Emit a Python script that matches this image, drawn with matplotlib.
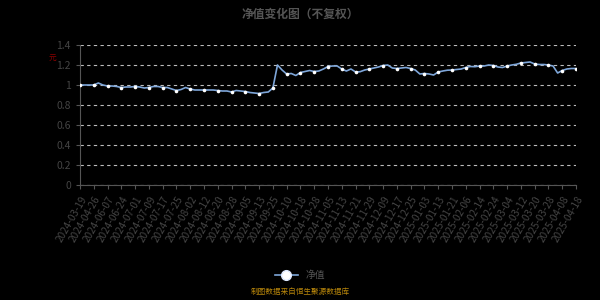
import matplotlib
matplotlib.use("Agg")
import matplotlib.pyplot as plt
from matplotlib.lines import Line2D

plt.rcParams['font.family'] = ['Noto Sans CJK SC', 'DejaVu Sans']

tick_dates = [
    "2024-03-19", "2024-04-26", "2024-06-07", "2024-06-24", "2024-07-01", "2024-07-09",
    "2024-07-17", "2024-07-25", "2024-08-02", "2024-08-12", "2024-08-20", "2024-08-28",
    "2024-09-05", "2024-09-13", "2024-09-25", "2024-10-10", "2024-10-18", "2024-10-28",
    "2024-11-05", "2024-11-13", "2024-11-21", "2024-11-29", "2024-12-09", "2024-12-17",
    "2024-12-25", "2025-01-03", "2025-01-13", "2025-01-21", "2025-02-06", "2025-02-14",
    "2025-02-24", "2025-03-04", "2025-03-12", "2025-03-20", "2025-03-28", "2025-04-08",
    "2025-04-18",
]

# net value, three readings per tick interval
nav = [
    1.00, 1.00, 1.00, 1.00, 1.02, 1.00, 0.99, 0.99, 0.985, 0.975,
    0.98, 0.98, 0.985, 0.98, 0.97, 0.975, 0.985, 0.985, 0.975, 0.975,
    0.96, 0.945, 0.955, 0.975, 0.96, 0.95, 0.95, 0.95, 0.95, 0.95,
    0.945, 0.94, 0.94, 0.93, 0.945, 0.94, 0.935, 0.925, 0.92, 0.915,
    0.925, 0.93, 0.97, 1.20, 1.15, 1.11, 1.115, 1.095, 1.125, 1.135,
    1.145, 1.135, 1.14, 1.16, 1.185, 1.19, 1.19, 1.16, 1.14, 1.16,
    1.13, 1.133, 1.15, 1.16, 1.17, 1.18, 1.195, 1.20, 1.17, 1.165,
    1.17, 1.175, 1.165, 1.15, 1.11, 1.115, 1.11, 1.10, 1.13, 1.14,
    1.148, 1.15, 1.155, 1.16, 1.175, 1.185, 1.183, 1.19, 1.19, 1.20,
    1.195, 1.18, 1.175, 1.19, 1.20, 1.207, 1.22, 1.225, 1.23, 1.21,
    1.205, 1.205, 1.20, 1.19, 1.12, 1.145, 1.16, 1.165, 1.165,
]

step = 3
x = list(range(len(nav)))

fig = plt.figure(figsize=(6, 3), dpi=100, facecolor="black")
ax = fig.add_axes([0.1333, 0.3833, 0.8267, 0.4667], facecolor="black")

ax.plot(x, nav, color="#7ea6d9", lw=1.2, marker="o", markersize=2.6,
        markerfacecolor="white", markeredgewidth=0, markevery=step, zorder=3)

ax.set_ylim(0, 1.4)
ax.set_xlim(0, len(nav) - 1)
yt = [0, 0.2, 0.4, 0.6, 0.8, 1.0, 1.2, 1.4]
ax.set_yticks(yt)
ax.set_yticklabels(["0", "0.2", "0.4", "0.6", "0.8", "1", "1.2", "1.4"])
ax.set_xticks(x[::step])
ax.set_xticklabels(tick_dates, rotation=60, ha="right", rotation_mode="anchor")

ax.yaxis.grid(True, color="#bbbbbb", ls=(0, (3, 3)), lw=0.8)
for s in ["top", "right"]:
    ax.spines[s].set_visible(False)
for s in ["left", "bottom"]:
    ax.spines[s].set_color("#555555")
ax.tick_params(axis="both", colors="#555555", labelcolor="#444444", labelsize=7.5, length=3)
ax.tick_params(axis="x", labelsize=7.2)

fig.text(0.5, 0.975, "净值变化图（不复权）", ha="center", va="top", color="#555555",
         fontsize=8.5, fontweight="bold")
fig.text(0.088, 0.805, "元", color="#8b0000", fontsize=5.5, ha="center", va="center")

handle = Line2D([], [], color="#7ea6d9", lw=1.2, marker="o", markersize=7,
                markerfacecolor="white", markeredgecolor="#dde8ff", markeredgewidth=1)
fig.legend([handle], ["净值"], loc="center", bbox_to_anchor=(0.5, 0.083), frameon=False,
           fontsize=7, handlelength=2.4, labelcolor="#555555")
fig.text(0.5, 0.013, "制图数据来自恒生聚源数据库", ha="center", va="bottom",
         color="#b8860b", fontsize=5.5)

fig.savefig("out.png", dpi=100, facecolor="black")
